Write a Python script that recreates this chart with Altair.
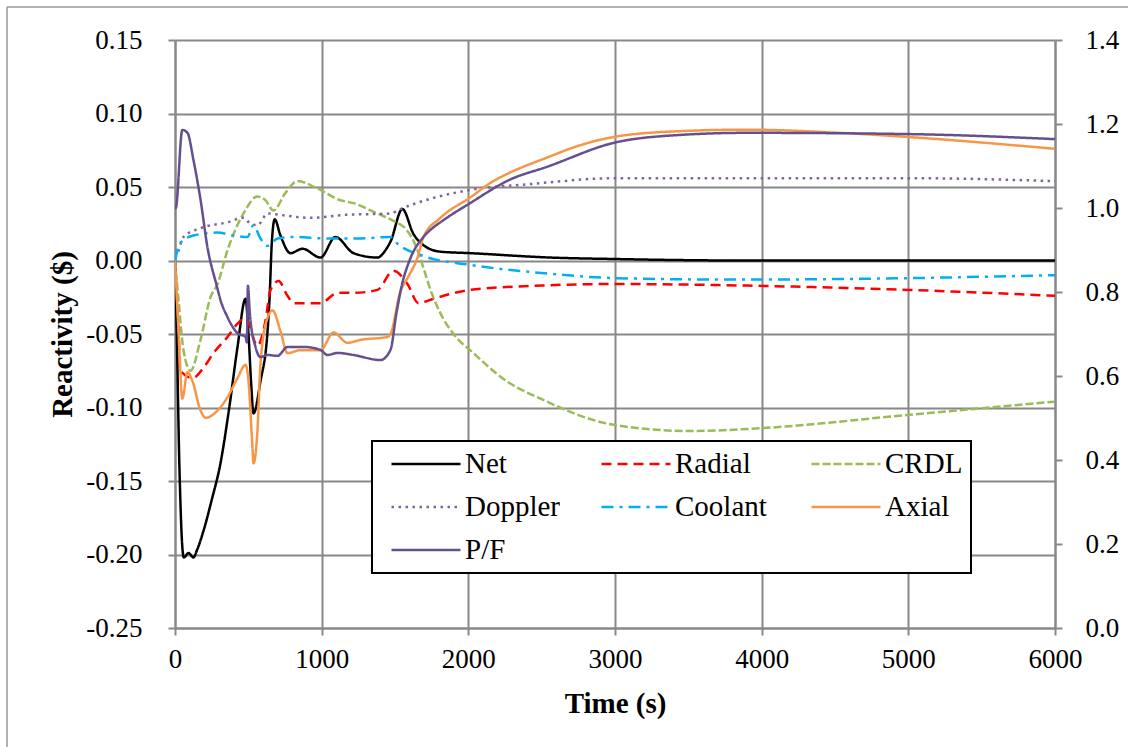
import altair as alt
import pandas as pd

# ---------------- data ----------------
series_order = ["Net", "Radial", "CRDL", "Doppler", "Coolant", "Axial", "P/F"]
series_colors = ["#000000", "#FF0000", "#9BBB59", "#8064A2", "#00B0F0", "#F79646", "#65508F"]
series_dash = [[1, 0], [10, 6], [8, 3], [2.5, 4.5], [12, 6, 3, 6], [1, 0], [1, 0]]

net_t = [0, 10, 30, 50, 60, 92, 126, 150, 194, 250, 310, 370, 426, 481, 501, 520, 535, 583,
         631, 645, 660, 680, 719, 787, 869, 992, 1094, 1217, 1380, 1435, 1470, 1550, 1626,
         1700, 1810, 2014, 2560, 3003, 3855, 5000, 6000]
net_v = [0.0, -0.04, -0.14, -0.195, -0.202, -0.199, -0.202, -0.197, -0.184, -0.163, -0.138,
         -0.100, -0.059, -0.026, -0.050, -0.085, -0.104, -0.082, -0.048, -0.025, 0.012, 0.028,
         0.017, 0.005, 0.008, 0.002, 0.016, 0.005, 0.002, 0.007, 0.013, 0.035, 0.018, 0.010,
         0.006, 0.005, 0.002, 0.001, 0.0, 0.0, 0.0]

radial_t = [0, 24, 37, 119, 194, 262, 358, 426, 481, 562, 617, 651, 706, 767, 808, 992, 1108,
            1217, 1380, 1489, 1585, 1660, 1762, 2014, 2505, 3003, 3855, 5000, 6000]
radial_v = [0.0, -0.048, -0.075, -0.080, -0.073, -0.063, -0.052, -0.043, -0.039, -0.058,
            -0.041, -0.020, -0.014, -0.024, -0.029, -0.029, -0.022, -0.022, -0.020, -0.007,
            -0.016, -0.029, -0.026, -0.020, -0.017, -0.016, -0.017, -0.020, -0.024]

crdl_t = [0, 24, 58, 106, 174, 242, 290, 358, 467, 562, 617, 671, 753, 835, 971, 1128, 1217,
          1380, 1489, 1578, 1646, 1694, 1742, 1810, 1899, 2035, 2260, 2492, 3003, 3514, 4005,
          5000, 6000]
crdl_v = [0.0, -0.027, -0.061, -0.075, -0.054, -0.025, -0.016, 0.007, 0.032, 0.0435, 0.041,
          0.034, 0.046, 0.054, 0.049, 0.041, 0.039, 0.032, 0.027, 0.021, 0.009, -0.005, -0.020,
          -0.036, -0.050, -0.063, -0.082, -0.094, -0.112, -0.116, -0.114, -0.105, -0.096]

doppler_t = [0, 17, 58, 174, 358, 467, 515, 562, 631, 719, 924, 1149, 1469, 1537, 1742, 2014,
             2423, 3003, 3855, 5000, 6000]
doppler_v = [0.002, 0.005, 0.016, 0.022, 0.026, 0.029, 0.025, 0.024, 0.032, 0.031, 0.029,
             0.031, 0.032, 0.035, 0.042, 0.048, 0.052, 0.056, 0.056, 0.056, 0.054]

coolant_t = [0, 17, 37, 126, 290, 399, 494, 535, 583, 631, 699, 808, 1040, 1264, 1469, 1510,
             1694, 2014, 2560, 3003, 3855, 5000, 6000]
coolant_v = [0.0, 0.007, 0.012, 0.017, 0.019, 0.017, 0.016, 0.024, 0.015, 0.010, 0.015, 0.016,
             0.015, 0.015, 0.016, 0.012, 0.003, -0.003, -0.009, -0.012, -0.013, -0.012, -0.010]

axial_t = [0, 10, 25, 50, 85, 119, 174, 210, 290, 358, 426, 481, 501, 528, 535, 562, 583, 631,
           665, 719, 767, 856, 992, 1081, 1176, 1264, 1449, 1469, 1537, 1585, 1653, 1694, 1810,
           2014, 2170, 2267, 2536, 2750, 2990, 3446, 3900, 4500, 5000, 6000]
axial_v = [0.0, -0.02, -0.05, -0.094, -0.076, -0.082, -0.102, -0.107, -0.102, -0.093, -0.080,
           -0.071, -0.082, -0.127, -0.138, -0.116, -0.070, -0.039, -0.034, -0.048, -0.063,
           -0.061, -0.061, -0.049, -0.056, -0.054, -0.052, -0.050, -0.021, -0.012, 0.002,
           0.016, 0.029, 0.043, 0.054, 0.059, 0.070, 0.078, 0.084, 0.088, 0.089, 0.087, 0.084,
           0.076]

pf_t = [0, 5, 50, 85, 126, 174, 222, 283, 310, 358, 426, 481, 490, 497, 510, 549, 583, 631,
        699, 767, 883, 992, 1040, 1108, 1217, 1401, 1469, 1510, 1550, 1600, 1694, 1742, 1830,
        2014, 2280, 2536, 2990, 3446, 3900, 5000, 6000]
pf_v = [1.0, 1.0, 1.186, 1.179, 1.114, 1.02, 0.905, 0.817, 0.781, 0.740, 0.702, 0.693, 0.680,
        0.815, 0.750, 0.669, 0.645, 0.650, 0.648, 0.669, 0.669, 0.662, 0.650, 0.655, 0.650,
        0.638, 0.662, 0.750, 0.821, 0.876, 0.931, 0.948, 0.971, 1.012, 1.067, 1.098, 1.155,
        1.174, 1.179, 1.176, 1.164]

x_ticks = [0, 1000, 2000, 3000, 4000, 5000, 6000]
left_ticks = [-0.25, -0.20, -0.15, -0.10, -0.05, 0.00, 0.05, 0.10, 0.15]
right_ticks = [0.0, 0.2, 0.4, 0.6, 0.8, 1.0, 1.2, 1.4]

# ---------------- build tables ----------------
def frame(name, t, v):
    return pd.DataFrame({"time": t, "value": v, "series": name})

left_df = pd.concat([
    frame("Net", net_t, net_v),
    frame("Radial", radial_t, radial_v),
    frame("CRDL", crdl_t, crdl_v),
    frame("Doppler", doppler_t, doppler_v),
    frame("Coolant", coolant_t, coolant_v),
    frame("Axial", axial_t, axial_v),
], ignore_index=True)
right_df = frame("P/F", pf_t, pf_v)

FONT = "Liberation Serif"
GRID = "#888888"
MINUS_FIX = "replace(datum.label, '\u2212', '-')"

color_scale = alt.Scale(domain=series_order, range=series_colors)
dash_scale = alt.Scale(domain=series_order, range=series_dash)

legend = alt.Legend(
    title=None, orient="none", legendX=197, legendY=401, columns=3, direction="horizontal",
    symbolType="stroke", symbolSize=4760, symbolStrokeWidth=2.5, symbolOffset=10,
    clipHeight=30, labelOffset=3, labelFontSize=29, labelFont=FONT, labelColor="black",
    labelLimit=300, columnPadding=29, rowPadding=13, padding=8, gridAlign="all",
    fillColor="white", strokeColor="black",
)

x_enc = alt.X("time:Q", scale=alt.Scale(domain=[0, 6000], nice=False),
              axis=alt.Axis(title="Time (s)", values=x_ticks, format="d", grid=True,
                            labelPadding=11, titlePadding=17))

left = alt.Chart(left_df).mark_line(interpolate="monotone", strokeWidth=2.5, clip=True).encode(
    x=x_enc,
    y=alt.Y("value:Q", scale=alt.Scale(domain=[-0.25, 0.15], nice=False, zero=False),
            axis=alt.Axis(title="Reactivity ($)", values=left_ticks, format=".2f", grid=True,
                          labelExpr=MINUS_FIX, labelPadding=26, titlePadding=8,
                          orient="left")),
    color=alt.Color("series:N", scale=color_scale, legend=legend),
    strokeDash=alt.StrokeDash("series:N", scale=dash_scale, legend=legend),
    detail="series:N",
)

right = alt.Chart(right_df).mark_line(interpolate="monotone", strokeWidth=2.5, clip=True).encode(
    x=x_enc,
    y=alt.Y("value:Q", scale=alt.Scale(domain=[0, 1.4], nice=False, zero=False),
            axis=alt.Axis(title=None, values=right_ticks, format=".1f", grid=False,
                          labelPadding=23, orient="right")),
    color=alt.Color("series:N", scale=color_scale, legend=legend),
    strokeDash=alt.StrokeDash("series:N", scale=dash_scale, legend=legend),
)

# thin grey frame of the whole figure (left and top edges, as in the reference)
frame_df = pd.DataFrame({"k": [0]})
frame_left = alt.Chart(frame_df).mark_rule(color="#999999", strokeWidth=1.5).encode(
    x=alt.value(-168), y=alt.value(-33), y2=alt.value(707))
frame_top = alt.Chart(frame_df).mark_rule(color="#999999", strokeWidth=1.5).encode(
    x=alt.value(-168), x2=alt.value(953), y=alt.value(-33))

chart = alt.layer(frame_left, frame_top, left, right).resolve_scale(y="independent").properties(
    width=880, height=588,
    autosize=alt.AutoSizeParams(type="none"),
    padding={"left": 175, "top": 40, "right": 73, "bottom": 119},
    background="white",
).configure_view(stroke=None).configure_axis(
    labelFont=FONT, labelFontSize=27, labelColor="black", labelFlush=False,
    titleFont=FONT, titleFontSize=29, titleFontWeight="bold", titleColor="black",
    gridColor=GRID, gridWidth=2, gridOpacity=1,
    domainColor=GRID, domainWidth=2,
    tickColor=GRID, tickWidth=2, tickSize=7,
).configure_legend(strokeWidth=2)

chart.save("out.html", embed_options={"renderer": "svg", "actions": False})
